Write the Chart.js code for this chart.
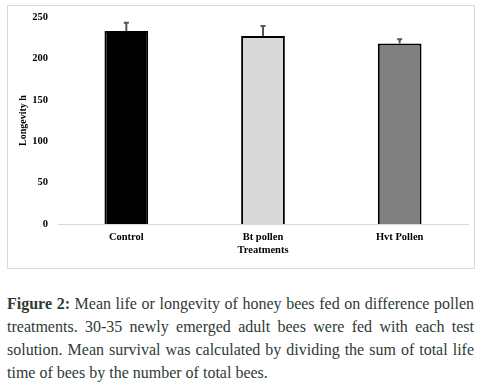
<!DOCTYPE html>
<html>
<head>
<meta charset="utf-8">
<script src="https://cdn.jsdelivr.net/npm/chart.js@4/dist/chart.umd.min.js"></script>
<style>
  html, body { margin: 0; padding: 0; background: #fff; width: 481px; height: 390px; overflow: hidden; }
  #frame { position: absolute; left: 7px; top: 5px; width: 466px; height: 262px; border: 1px solid #d9d9d9; }
  #wrap { position: absolute; left: 0; top: 0; width: 481px; height: 272px; }
  #caption { position: absolute; left: 7px; top: 292px; width: 467px; font-family: "Liberation Serif", serif;
    font-size: 16px; line-height: 23px; color: #2e3b34; text-align: justify; }
  #caption b { font-weight: bold; }
</style>
</head>
<body>
<div id="frame"></div>
<div id="wrap"><canvas id="c" width="481" height="272"></canvas></div>
<div id="caption"><b>Figure 2:</b> Mean life or longevity of honey bees fed on difference pollen treatments. 30-35 newly emerged adult bees were fed with each test solution. Mean survival was calculated by dividing the sum of total life time of bees by the number of total bees.</div>
<script>
const categories = ["Control", "Bt pollen", "Hvt Pollen"];
const meanLongevity = [233, 227, 218];
const errorUpper = [10, 12, 5];
const barColors = ["#000000", "#d9d9d9", "#808080"];
const yTicks = [0, 50, 100, 150, 200, 250];

const errorBarPlugin = {
  id: 'errorBars',
  afterDatasetsDraw(chart) {
    const ctx = chart.ctx;
    const meta = chart.getDatasetMeta(0);
    const y = chart.scales.y;
    ctx.save();
    ctx.strokeStyle = '#555555';
    ctx.lineWidth = 2;
    meta.data.forEach((bar, i) => {
      const x = bar.x;
      const top = y.getPixelForValue(meanLongevity[i] + errorUpper[i]);
      const base = y.getPixelForValue(meanLongevity[i]);
      ctx.beginPath();
      ctx.moveTo(x, base);
      ctx.lineTo(x, top);
      ctx.moveTo(x - 2.5, top);
      ctx.lineTo(x + 2.5, top);
      ctx.stroke();
    });
    ctx.restore();
  }
};

const tickFont = { family: '"Liberation Serif", serif', size: 10.5, weight: 'bold' };

new Chart(document.getElementById('c'), {
  type: 'bar',
  data: {
    labels: categories,
    datasets: [{
      data: meanLongevity,
      backgroundColor: barColors,
      borderColor: '#000000',
      borderWidth: 2,
      borderSkipped: 'bottom',
      categoryPercentage: 1,
      barPercentage: 0.32
    }]
  },
  options: {
    responsive: false,
    animation: false,
    events: [],
    layout: { padding: { top: 17, right: 13, left: 17, bottom: 15 } },
    plugins: { legend: { display: false }, tooltip: { enabled: false } },
    scales: {
      x: {
        grid: { display: false, drawTicks: false },
        border: { display: true, color: '#d9d9d9', width: 1 },
        ticks: { color: '#000', font: tickFont, padding: 7 },
        title: { display: true, text: 'Treatments', color: '#000', font: tickFont, padding: { top: 1, bottom: 0 } },
        afterFit(scale) { scale.height = 33; }
      },
      y: {
        min: 0, max: 250,
        afterBuildTicks(scale) { scale.ticks = yTicks.map(v => ({ value: v })); },
        grid: { display: false, drawTicks: false },
        border: { display: false },
        ticks: { color: '#000', font: tickFont, padding: 10 },
        title: { display: true, text: 'Longevity h', color: '#000', font: { family: tickFont.family, size: 10, weight: 'bold' }, padding: { top: 0, bottom: 0 } },
        afterFit(scale) { scale.width = 41; }
      }
    }
  },
  plugins: [errorBarPlugin]
});
</script>
</body>
</html>
